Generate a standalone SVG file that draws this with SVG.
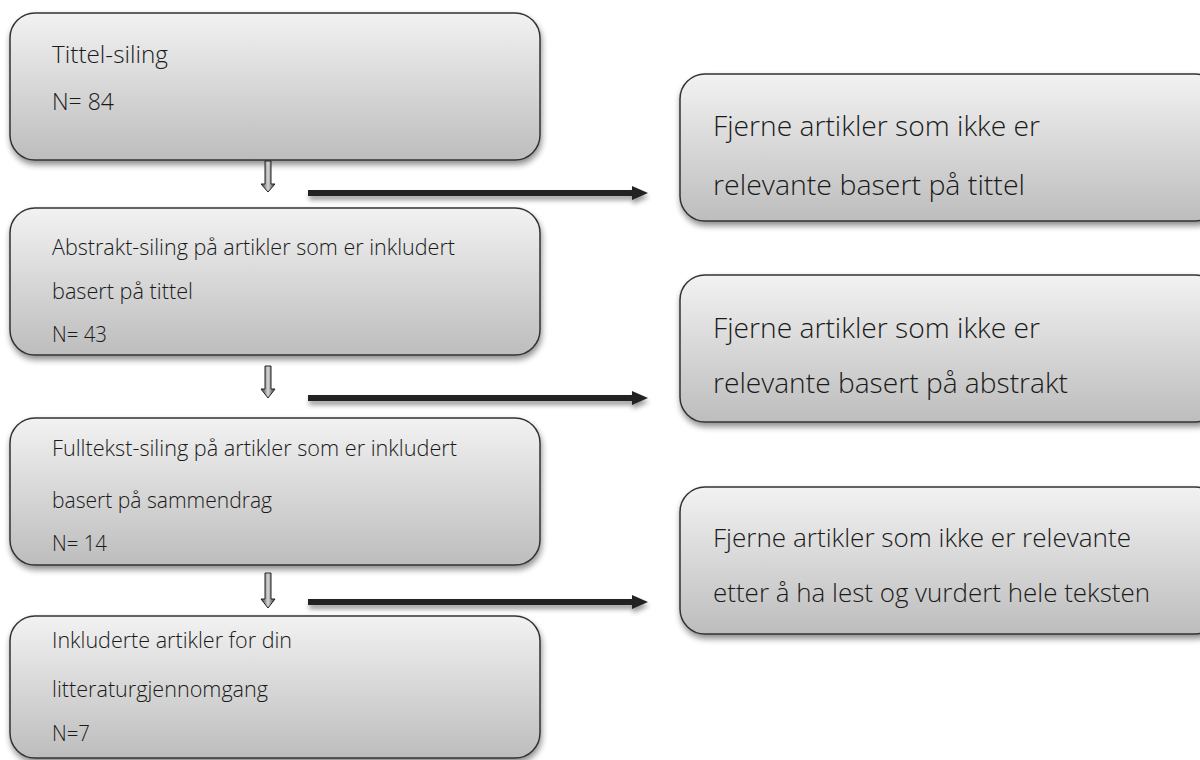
<svg xmlns="http://www.w3.org/2000/svg" width="1200" height="760" viewBox="0 0 1200 760">
<defs>
<linearGradient id="boxg" x1="0" y1="0" x2="0" y2="1">
<stop offset="0" stop-color="#f2f2f2"/>
<stop offset="1" stop-color="#bdbdbd"/>
</linearGradient>
<linearGradient id="arrg" x1="0" y1="0" x2="1" y2="0">
<stop offset="0" stop-color="#333"/>
<stop offset="0.5" stop-color="#d8d8d8"/>
<stop offset="1" stop-color="#333"/>
</linearGradient>
<filter id="sh" x="-5%" y="-5%" width="115%" height="125%">
<feGaussianBlur in="SourceAlpha" stdDeviation="3"/>
<feOffset dx="1" dy="4" result="b"/>
<feComponentTransfer><feFuncA type="linear" slope="0.45"/></feComponentTransfer>
<feMerge><feMergeNode/><feMergeNode in="SourceGraphic"/></feMerge>
</filter>
<filter id="sha" filterUnits="userSpaceOnUse" x="0" y="0" width="1200" height="760">
<feGaussianBlur in="SourceAlpha" stdDeviation="2.5"/>
<feOffset dx="1" dy="4" result="b"/>
<feComponentTransfer><feFuncA type="linear" slope="0.4"/></feComponentTransfer>
<feMerge><feMergeNode/><feMergeNode in="SourceGraphic"/></feMerge>
</filter>
</defs>
<style>
.box{fill:url(#boxg);stroke:#333;stroke-width:1.5;filter:url(#sh)}
.t{font-family:"Open Sans","Liberation Sans",sans-serif;font-weight:300;fill:#1a1a1a}
.b{font-size:23.5px}
.s{font-size:21.5px}
.l{font-size:27.5px}
.m{font-size:26px}
.h{fill:#222;filter:url(#sha)}
.d{fill:url(#arrg);stroke:#222;stroke-width:1}
</style>
<rect width="1200" height="760" fill="#fff"/>
<g id="n1"><rect class="box" x="10" y="13" width="530" height="147" rx="25"/>
<text class="t b" x="52" y="63" textLength="116" lengthAdjust="spacingAndGlyphs">Tittel-siling</text>
<text class="t b" x="52" y="110" textLength="62" lengthAdjust="spacingAndGlyphs">N= 84</text></g>
<g id="n2"><rect class="box" x="10" y="208" width="530" height="147" rx="25"/>
<text class="t s" x="52" y="255" textLength="403" lengthAdjust="spacingAndGlyphs">Abstrakt-siling på artikler som er inkludert</text>
<text class="t s" x="52" y="299" textLength="141" lengthAdjust="spacingAndGlyphs">basert på tittel</text>
<text class="t s" x="52" y="342" textLength="55" lengthAdjust="spacingAndGlyphs">N= 43</text></g>
<g id="n3"><rect class="box" x="10" y="418" width="530" height="147" rx="25"/>
<text class="t s" x="52" y="456" textLength="405" lengthAdjust="spacingAndGlyphs">Fulltekst-siling på artikler som er inkludert</text>
<text class="t s" x="52" y="508" textLength="220" lengthAdjust="spacingAndGlyphs">basert på sammendrag</text>
<text class="t s" x="52" y="551" textLength="55" lengthAdjust="spacingAndGlyphs">N= 14</text></g>
<g id="n4"><rect class="box" x="10" y="616" width="530" height="142" rx="25"/>
<text class="t s" x="52" y="648" textLength="240" lengthAdjust="spacingAndGlyphs">Inkluderte artikler for din</text>
<text class="t s" x="52" y="697" textLength="216" lengthAdjust="spacingAndGlyphs">litteraturgjennomgang</text>
<text class="t s" x="52" y="741" textLength="38" lengthAdjust="spacingAndGlyphs">N=7</text></g>
<g id="r1"><rect class="box" x="680" y="74" width="540" height="147" rx="25"/>
<text class="t l" x="713" y="136" textLength="327" lengthAdjust="spacingAndGlyphs">Fjerne artikler som ikke er</text>
<text class="t l" x="713" y="195" textLength="312" lengthAdjust="spacingAndGlyphs">relevante basert på tittel</text></g>
<g id="r2"><rect class="box" x="680" y="275" width="540" height="147" rx="25"/>
<text class="t l" x="713" y="338" textLength="327" lengthAdjust="spacingAndGlyphs">Fjerne artikler som ikke er</text>
<text class="t l" x="713" y="393" textLength="355" lengthAdjust="spacingAndGlyphs">relevante basert på abstrakt</text></g>
<g id="r3"><rect class="box" x="680" y="487" width="540" height="147" rx="25"/>
<text class="t m" x="713" y="547" textLength="418" lengthAdjust="spacingAndGlyphs">Fjerne artikler som ikke er relevante</text>
<text class="t m" x="713" y="602" textLength="437" lengthAdjust="spacingAndGlyphs">etter å ha lest og vurdert hele teksten</text></g>
<g id="connectors">
<path class="d" d="M265,161 H271 V184 H275 L268,192 L261,184 H265 Z"/>
<path class="d" d="M265,366 H271 V389 H275 L268,398 L261,389 H265 Z"/>
<path class="d" d="M265,573 H271 V599 H275 L268,608 L261,599 H265 Z"/>
<path class="h" d="M308,190 H632 V186 L648,193 L632,200 V196 H308 Z"/>
<path class="h" d="M308,395 H632 V391 L648,398 L632,405 V401 H308 Z"/>
<path class="h" d="M308,599 H632 V595 L648,602 L632,609 V605 H308 Z"/>
</g>
</svg>
